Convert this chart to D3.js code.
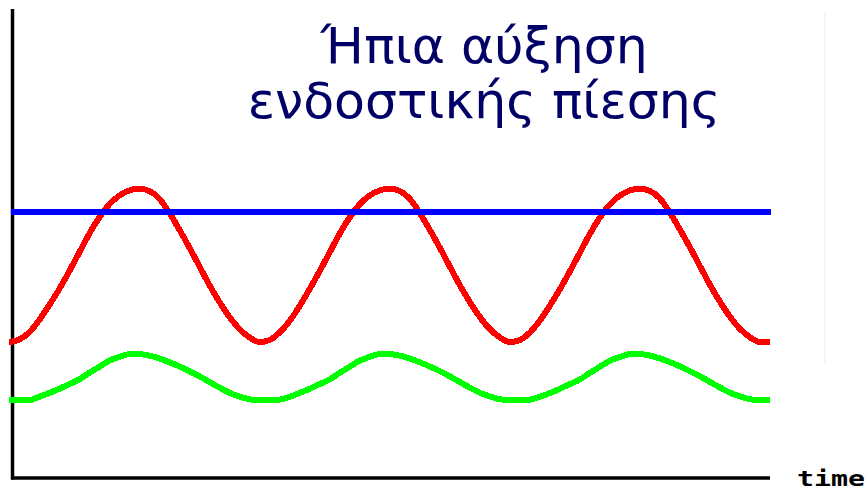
<!DOCTYPE html>
<html>
<head>
<meta charset="utf-8">
<script src="https://cdn.jsdelivr.net/npm/d3@7/dist/d3.min.js"></script>
<style>
  html, body { margin: 0; padding: 0; background: #ffffff; }
  svg { display: block; }
</style>
</head>
<body>
<svg id="chart" width="866" height="491"></svg>
<script>
// ---- Data ----
const titleLines = ["Ήπια αύξηση", "ενδοστικής πίεσης"];
const axisLabel = "time";

// time samples 0..76 (arbitrary units)
const time = d3.range(0, 77);

// red curve (one value per time sample)
const redValues = [
  29.0, 29.5, 31.0, 33.6, 36.8, 40.2, 44.0, 48.0, 52.0, 55.5, 58.3, 60.2, 61.3, 61.7,
  61.2, 59.6, 56.6, 53.0, 49.2, 45.2, 41.2, 37.6, 34.4, 31.8, 30.0,
  29.0, 29.4, 31.0, 33.4, 36.6, 40.2, 44.0, 48.0, 52.0, 55.5, 58.3, 60.2, 61.3, 61.7,
  61.2, 59.6, 56.6, 53.0, 49.2, 45.2, 41.2, 37.6, 34.4, 31.8, 30.0,
  29.0, 29.4, 31.0, 33.5, 36.7, 40.2, 44.0, 48.0, 52.0, 55.5, 58.3, 60.2, 61.3, 61.7,
  61.2, 59.6, 56.6, 53.0, 49.2, 45.2, 41.2, 37.6, 34.4, 31.8, 30.0,
  29.0, 29.0
];

// green curve
const greenValues = [
  16.6, 16.6, 16.6, 17.3, 18.1, 19.0, 20.0, 21.0, 22.4, 23.7, 25.0, 25.8, 26.4, 26.4,
  26.1, 25.5, 24.7, 23.8, 22.8, 21.7, 20.5, 19.3, 18.2, 17.4, 16.8,
  16.6, 16.6, 16.7, 17.3, 18.1, 19.0, 20.0, 21.0, 22.4, 23.7, 25.0, 25.8, 26.4, 26.4,
  26.1, 25.5, 24.7, 23.8, 22.8, 21.7, 20.5, 19.3, 18.2, 17.4, 16.8,
  16.6, 16.6, 16.7, 17.3, 18.1, 19.0, 20.0, 21.0, 22.4, 23.7, 25.0, 25.8, 26.4, 26.4,
  26.1, 25.5, 24.7, 23.8, 22.8, 21.7, 20.5, 19.3, 18.2, 17.4, 16.8,
  16.6, 16.6
];

// blue constant level
const blueLevel = 56.7;

// ---- Drawing ----
const svg = d3.select("#chart");

const x = d3.scaleLinear().domain([0, 76]).range([9, 770]);
const y = d3.scaleLinear().domain([0, 100]).range([478, 9]);

// faint artifact line on the right
svg.append("line")
  .attr("x1", 825).attr("x2", 825).attr("y1", 12).attr("y2", 363)
  .attr("stroke", "#f3f3f3").attr("stroke-width", 1.5);

// axes (no ticks)
const yAxis = d3.axisLeft(y).tickValues([]).tickSizeOuter(0);
const xAxis = d3.axisBottom(x).tickValues([]).tickSizeOuter(0);

const gy = svg.append("g").attr("transform", "translate(12.5,0)").call(yAxis);
gy.select(".domain").attr("stroke", "#000").attr("stroke-width", 3.5).attr("d", "M0," + (y(0) + 1.5) + "V" + y(100));

const gx = svg.append("g").attr("transform", "translate(0," + y(0) + ")").call(xAxis);
gx.select(".domain").attr("stroke", "#000").attr("stroke-width", 3.5).attr("d", "M11,0H" + x(76));

const line = d3.line()
  .x((d, i) => x(time[i]))
  .y(d => y(d))
  .curve(d3.curveMonotoneX);

svg.append("path")
  .datum(greenValues)
  .attr("d", line)
  .attr("fill", "none")
  .attr("stroke", "#00ff00")
  .attr("stroke-width", 6)
  .attr("shape-rendering", "crispEdges");

svg.append("path")
  .datum(redValues)
  .attr("d", line)
  .attr("fill", "none")
  .attr("stroke", "#ff0000")
  .attr("stroke-width", 6)
  .attr("shape-rendering", "crispEdges");

svg.append("line")
  .attr("x1", x(0) + 2).attr("x2", x(76) + 1)
  .attr("y1", y(blueLevel)).attr("y2", y(blueLevel))
  .attr("stroke", "#0000ff")
  .attr("stroke-width", 6)
  .attr("shape-rendering", "crispEdges");

// title
svg.selectAll("text.title")
  .data(titleLines)
  .enter().append("text")
  .attr("class", "title")
  .attr("x", 484)
  .attr("y", (d, i) => 63 + i * 55)
  .attr("text-anchor", "middle")
  .attr("font-family", "DejaVu Sans, Verdana, sans-serif")
  .attr("font-size", 50.5)
  .attr("fill", "#000066")
  .text(d => d);

// axis label
svg.append("text")
  .attr("x", 797)
  .attr("y", 486)
  .attr("font-family", "DejaVu Sans Mono, monospace")
  .attr("font-weight", "bold")
  .attr("font-size", 21)
  .attr("textLength", 68)
  .attr("lengthAdjust", "spacingAndGlyphs")
  .attr("fill", "#000")
  .text(axisLabel);
</script>
</body>
</html>
